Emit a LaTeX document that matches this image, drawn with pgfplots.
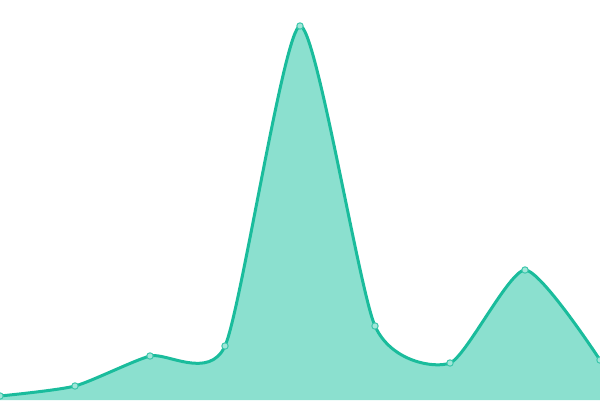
\documentclass[border=0pt]{standalone}
\usepackage{pgfplots}
\pgfplotsset{compat=1.18}
\definecolor{turq}{HTML}{1ABC9C}
\definecolor{turqfill}{HTML}{8BE0CF}
\begin{document}
\begin{tikzpicture}
\begin{axis}[
    name=main,
    width=600pt, height=400pt,
    scale only axis,
    xmin=0, xmax=600, ymin=0, ymax=400,
    hide axis,
    clip=false,
]
\addplot[draw=none, fill=turqfill, smooth, tension=0.38] coordinates {
    (0,4) (75,14) (150,44) (225,54) (300,374) (375,74) (450,37) (525,130) (600,40)
} \closedcycle;
\addplot[turq, line width=3pt, smooth, tension=0.38,
    mark=*, mark size=3.2pt,
    mark options={fill=turqfill!80!white, draw=turq!70!turqfill, line width=1pt}] coordinates {
    (0,4) (75,14) (150,44) (225,54) (300,374) (375,74) (450,37) (525,130) (600,40)
};
\end{axis}
\pgfresetboundingbox
\path (main.south west) rectangle (main.north east);
\end{tikzpicture}
\end{document}
